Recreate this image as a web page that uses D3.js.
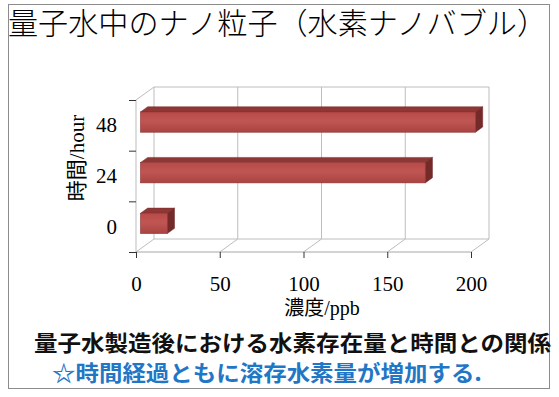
<!DOCTYPE html>
<html>
<head>
<meta charset="utf-8">
<script src="https://cdn.jsdelivr.net/npm/d3@7"></script>
<style>
  body { margin: 0; background: #fff; }
  svg { display: block; }
</style>
</head>
<body>
<div id="chart"></div>
<script>
// data
const hours = ['48', '24', '0'];
const ppb = [200, 170, 16];
const xTicks = [0, 50, 100, 150, 200];
const titleText = '量子水中のナノ粒子（水素ナノバブル）';
const caption1 = '量子水製造後における水素存在量と時間との関係';
const caption2 = '☆時間経過ともに溶存水素量が増加する.';

const W = 559, H = 397;
const depth = {dx: 18, dy: -13};
const barDepth = {f0: 0.25, f1: 0.65};

const svg = d3.select('#chart').append('svg')
  .attr('width', W).attr('height', H);

const defs = svg.append('defs');
const grad = defs.append('linearGradient')
  .attr('id', 'barFront').attr('x1', 0).attr('y1', 0).attr('x2', 0).attr('y2', 1);
grad.append('stop').attr('offset', '0%').attr('stop-color', '#b84a48');
grad.append('stop').attr('offset', '45%').attr('stop-color', '#c05653');
grad.append('stop').attr('offset', '100%').attr('stop-color', '#a94341');

// outer frame
svg.append('rect')
  .attr('x', 8.5).attr('y', 4.5).attr('width', 541).attr('height', 384)
  .attr('fill', 'none').attr('stroke', '#8c8c8c').attr('stroke-width', 1);

// title
svg.append('text')
  .attr('x', 8).attr('y', 34)
  .attr('textLength', 539).attr('lengthAdjust', 'spacingAndGlyphs')
  .style('font-family', '"Noto Sans CJK JP", sans-serif')
  .style('font-size', '30px')
  .style('font-weight', 300)
  .attr('fill', '#000')
  .text(titleText);

// scales
const x = d3.scaleLinear().domain([0, 200]).range([136, 471]);
const y = d3.scaleBand().domain(hours).range([100, 252]).paddingInner(0.6).paddingOuter(0.3);
const yEdge = d3.scaleLinear().domain([0, 3]).range([100, 252]);

const x0 = x(0), x1 = x(200), yTop = yEdge(0), yBot = yEdge(3);
const g = svg.append('g');
const gridCol = '#bdbdbd';

// back wall
g.append('path')
  .attr('d', `M${x0 + depth.dx},${yBot + depth.dy}V${yTop + depth.dy}H${x1 + depth.dx}V${yBot + depth.dy}`)
  .attr('fill', 'none').attr('stroke', gridCol);
// back wall gridlines
g.selectAll('.grid').data(xTicks.slice(1, -1)).join('line')
  .attr('x1', d => x(d) + depth.dx).attr('x2', d => x(d) + depth.dx)
  .attr('y1', yTop + depth.dy).attr('y2', yBot + depth.dy)
  .attr('stroke', gridCol);
// floor
g.append('line')
  .attr('x1', x0 + depth.dx).attr('x2', x1 + depth.dx)
  .attr('y1', yBot + depth.dy).attr('y2', yBot + depth.dy)
  .attr('stroke', gridCol);
g.selectAll('.floor').data(xTicks).join('line')
  .attr('x1', d => x(d)).attr('x2', d => x(d) + depth.dx)
  .attr('y1', yBot).attr('y2', yBot + depth.dy)
  .attr('stroke', gridCol);
// left side wall
g.append('path')
  .attr('d', `M${x0},${yBot}V${yTop}L${x0 + depth.dx},${yTop + depth.dy}`)
  .attr('fill', 'none').attr('stroke', gridCol);

// bars (top, side, front)
const bars = g.selectAll('.bar').data(hours.map((h, i) => ({h, v: ppb[i]}))).join('g');
const ox = depth.dx * barDepth.f0, oy = depth.dy * barDepth.f0;
const bx = depth.dx * (barDepth.f1 - barDepth.f0), by = depth.dy * (barDepth.f1 - barDepth.f0);
bars.append('path')
  .attr('d', d => {
    const l = x(0) + ox, r = x(d.v) + ox, t = y(d.h) + oy;
    return `M${l},${t}L${l + bx},${t + by}H${r + bx}L${r},${t}Z`;
  })
  .attr('fill', '#8e3735').attr('stroke', '#7a2c2b').attr('stroke-width', 0.5);
bars.append('path')
  .attr('d', d => {
    const r = x(d.v) + ox, t = y(d.h) + oy, b = t + y.bandwidth();
    return `M${r},${t}L${r + bx},${t + by}V${b + by}L${r},${b}Z`;
  })
  .attr('fill', '#732a29').attr('stroke', '#6a2524').attr('stroke-width', 0.5);
bars.append('rect')
  .attr('x', x(0) + ox).attr('y', d => y(d.h) + oy)
  .attr('width', d => x(d.v) - x(0)).attr('height', y.bandwidth())
  .attr('fill', 'url(#barFront)').attr('stroke', '#8a3331').attr('stroke-width', 0.6);

// front floor edge
g.append('line')
  .attr('x1', x0).attr('x2', x1).attr('y1', yBot).attr('y2', yBot)
  .attr('stroke', '#a6a6a6');

// x axis
const xAxis = svg.append('g')
  .attr('transform', `translate(0,${yBot})`)
  .call(d3.axisBottom(x).tickValues(xTicks).tickSize(6).tickPadding(18).tickFormat(d3.format('d')));
xAxis.select('.domain').remove();
xAxis.selectAll('.tick line').attr('stroke', '#333');
xAxis.selectAll('text')
  .style('font-family', '"Liberation Serif", serif').style('font-size', '21px').attr('fill', '#000');

// y axis: ticks at band edges, labels at band centres
const yAxis = svg.append('g')
  .attr('transform', `translate(${x0},0)`)
  .call(d3.axisLeft(yEdge).tickValues([0, 1, 2, 3]).tickSize(7).tickFormat(''));
yAxis.select('.domain').remove();
yAxis.selectAll('.tick line').attr('stroke', '#333');
svg.selectAll('.ylab').data(hours).join('text')
  .attr('x', 117).attr('y', (d, i) => (yEdge(i) + yEdge(i + 1)) / 2)
  .attr('text-anchor', 'end').attr('dominant-baseline', 'central')
  .style('font-family', '"Liberation Serif", serif').style('font-size', '21px')
  .text(d => d);

// axis titles
const yt = svg.append('text')
  .attr('transform', 'translate(84,158) rotate(-90)')
  .attr('text-anchor', 'middle')
  .style('font-size', '21px');
yt.append('tspan').style('font-family', '"Noto Sans CJK JP", sans-serif').text('時間');
yt.append('tspan').style('font-family', '"Liberation Serif", serif').text('/hour');

const xt = svg.append('text')
  .attr('x', 322).attr('y', 315)
  .attr('text-anchor', 'middle')
  .style('font-size', '20px');
xt.append('tspan').style('font-family', '"Noto Sans CJK JP", sans-serif').text('濃度');
xt.append('tspan').style('font-family', '"Liberation Serif", serif').text('/ppb');

// captions
svg.append('text')
  .attr('x', 34).attr('y', 351)
  .attr('textLength', 517).attr('lengthAdjust', 'spacingAndGlyphs')
  .style('font-family', '"Noto Sans CJK JP", sans-serif')
  .style('font-size', '22px').style('font-weight', 700)
  .attr('fill', '#111')
  .text(caption1);
svg.append('text')
  .attr('x', 52).attr('y', 381)
  .attr('textLength', 430).attr('lengthAdjust', 'spacingAndGlyphs')
  .style('font-family', '"Noto Sans CJK JP", sans-serif')
  .style('font-size', '22px').style('font-weight', 700)
  .attr('fill', '#1f77c6')
  .text(caption2);
</script>
</body>
</html>
